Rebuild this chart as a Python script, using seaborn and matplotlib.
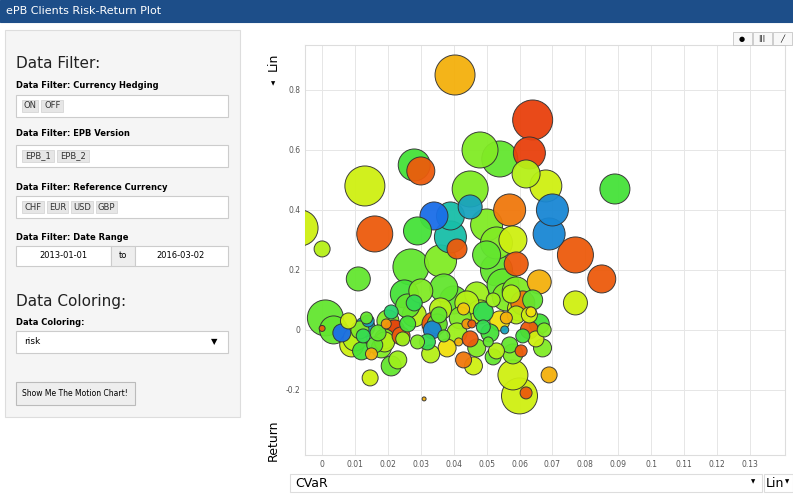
import matplotlib
matplotlib.use("Agg")
import matplotlib.pyplot as plt
import seaborn as sns
import pandas as pd
from matplotlib.colors import LinearSegmentedColormap
from matplotlib.patches import Rectangle

# bubble data: CVaR, Return, radius (px), risk colour value (0 red .. 1 blue)
cvar = [0.0404, 0.064, 0.063, 0.028, 0.013, 0.030, 0.048, 0.054, 0.089, -0.0067,
        0.000, 0.016, 0.029, 0.034, 0.039, 0.045, 0.068, 0.050, 0.057, 0.069,
        0.077, 0.085, 0.077, 0.027, 0.036, 0.041, 0.053, 0.059, 0.066, 0.011,
        0.001, 0.060, 0.058, 0.069, 0.062, 0.0146, 0.021, 0.031, 0.000, 0.058,
        0.006, 0.010, 0.013, 0.016, 0.020, 0.024, 0.028, 0.032, 0.035, 0.038,
        0.042, 0.045, 0.048, 0.051, 0.054, 0.057, 0.060, 0.063, 0.066, 0.008,
        0.018, 0.026, 0.033, 0.040, 0.047, 0.052, 0.056, 0.061, 0.065, 0.012,
        0.022, 0.030, 0.037, 0.044, 0.049, 0.055, 0.059, 0.046, 0.043, 0.050,
        0.036, 0.025, 0.058, 0.053, 0.039, 0.045, 0.070, 0.062, 0.019, 0.034,
        # extra cluster bubbles
        0.009, 0.0115, 0.0125, 0.014, 0.017, 0.019, 0.021, 0.023, 0.0035, 0.015,
        0.026, 0.029, 0.0335, 0.0355, 0.041, 0.043, 0.047, 0.049, 0.053, 0.056,
        0.061, 0.063, 0.067, 0.064, 0.059, 0.052, 0.044, 0.037, 0.028, 0.0245,
        0.0195, 0.0135, 0.0415, 0.0455, 0.0505, 0.0555, 0.0605, 0.0635, 0.0675, 0.0575]
ret = [0.85, 0.70, 0.59, 0.55, 0.48, 0.53, 0.60, 0.57, 0.47, 0.34,
       0.27, 0.32, 0.33, 0.38, 0.38, 0.47, 0.48, 0.35, 0.40, 0.32,
       0.25, 0.17, 0.09, 0.21, 0.23, 0.27, 0.20, 0.22, 0.16, 0.17,
       0.04, -0.22, -0.15, -0.15, -0.21, -0.16, -0.12, -0.23, 0.005, -0.08,
       -0.01, -0.03, 0.01, -0.05, 0.03, -0.02, 0.05, -0.04, 0.02, -0.06,
       0.04, -0.03, 0.06, -0.01, 0.03, -0.05, 0.07, 0.00, 0.02, 0.03,
       -0.06, 0.08, -0.08, 0.10, 0.12, -0.09, 0.11, 0.09, -0.03, -0.07,
       0.00, 0.13, 0.14, 0.09, 0.06, 0.15, 0.13, -0.12, -0.10, 0.25,
       0.07, 0.12, 0.30, 0.29, 0.31, 0.41, 0.40, 0.52, -0.03, 0.02,
       -0.05, 0.00, -0.02, 0.03, -0.01, -0.04, 0.06, -0.10, 0.00, -0.08,
       0.02, -0.04, 0.00, 0.05, -0.01, 0.07, -0.06, 0.01, -0.07, 0.04,
       -0.02, 0.05, -0.06, 0.10, 0.05, 0.10, 0.02, -0.02, 0.09, -0.03,
       0.02, 0.04, -0.04, 0.02, -0.04, 0.00, -0.07, 0.06, 0.00, 0.12]
radius = [20, 20, 16, 16, 20, 14, 18, 18, 15, 18,
          8, 18, 14, 14, 14, 18, 16, 16, 16, 16,
          18, 14, 12, 18, 16, 10, 16, 12, 12, 12,
          18, 18, 15, 8, 6, 8, 10, 2, 3, 10,
          9, 12, 10, 8, 11, 9, 12, 8, 10, 9,
          11, 8, 12, 9, 10, 8, 12, 9, 10, 8,
          10, 12, 9, 14, 12, 8, 14, 12, 8, 9,
          10, 12, 14, 12, 10, 16, 14, 9, 8, 14,
          11, 14, 14, 16, 16, 12, 16, 14, 10, 12,
          12, 9, 7, 6, 8, 10, 7, 9, 14, 6,
          8, 7, 9, 8, 10, 6, 9, 7, 8, 6,
          7, 8, 9, 10, 9, 7, 5, 6, 8, 7,
          5, 6, 4, 4, 5, 4, 6, 5, 7, 9]
risk = [0.2, 0.0, 0.0, 0.65, 0.4, 0.05, 0.55, 0.6, 0.65, 0.4,
        0.45, 0.05, 0.65, 1.0, 0.85, 0.55, 0.4, 0.55, 0.1, 0.95,
        0.05, 0.05, 0.4, 0.6, 0.55, 0.05, 0.6, 0.05, 0.2, 0.6,
        0.6, 0.4, 0.4, 0.2, 0.05, 0.4, 0.6, 0.2, 0.05, 0.55,
        1.0, 0.45, 0.9, 0.6, 0.55, 0.05, 0.45, 0.7, 0.6, 0.3,
        0.55, 0.05, 0.45, 0.65, 0.3, 0.6, 0.4, 0.05, 0.65, 0.4,
        0.55, 0.6, 0.45, 0.6, 0.5, 0.6, 0.55, 0.1, 0.4, 0.65,
        0.0, 0.55, 0.6, 0.45, 0.7, 0.6, 0.55, 0.4, 0.1, 0.6,
        0.45, 0.65, 0.4, 0.55, 0.85, 0.9, 0.95, 0.45, 0.55, 0.05,
        0.4, 0.55, 0.7, 0.9, 0.6, 0.45, 0.75, 0.5, 0.6, 0.2,
        0.65, 0.55, 0.95, 0.6, 0.5, 0.25, 0.55, 0.7, 0.45, 0.2,
        0.65, 0.4, 0.55, 0.6, 0.45, 0.5, 0.15, 0.6, 0.7, 0.5,
        0.15, 0.6, 0.2, 0.05, 0.6, 0.9, 0.05, 0.3, 0.55, 0.45]

xticks = [0, 0.01, 0.02, 0.03, 0.04, 0.05, 0.06, 0.07, 0.08, 0.09, 0.1, 0.11, 0.12, 0.13]
yticks = [-0.2, 0, 0.2, 0.4, 0.6, 0.8]

W, H = 793, 494
fig = plt.figure(figsize=(W / 100, H / 100), dpi=100)
fig.patch.set_facecolor("white")


def fx(px):
    return px / W


def fy(py):
    return 1 - py / H


def box(x0, y0, x1, y1, fc="white", ec="#cccccc", lw=0.8):
    fig.patches.append(Rectangle((fx(x0), fy(y1)), fx(x1) - fx(x0), fy(y0) - fy(y1),
                                 transform=fig.transFigure, fc=fc, ec=ec, lw=lw))


def txt(px, py, s, **kw):
    fig.text(fx(px), fy(py), s, va="center", **kw)


def chips(x0, py, labels):
    x = x0
    for lab in labels:
        w = 6 + 5.2 * len(lab)
        box(x, py - 6, x + w, py + 6, fc="#e6e6e6", ec="#d0d0d0", lw=0.5)
        txt(x + w / 2, py, lab, fontsize=6, ha="center", color="#333333")
        x += w + 3


# header
box(0, 0, W, 22, fc="#1d4e89", ec="#1d4e89")
txt(6, 11, "ePB Clients Risk-Return Plot", fontsize=8, color="white")

# sidebar
box(5, 30, 240, 417, fc="#f5f5f5", ec="#dddddd")
txt(16, 63, "Data Filter:", fontsize=11, color="#222222")
txt(16, 86, "Data Filter: Currency Hedging", fontsize=6, weight="bold")
box(16, 95, 228, 117)
chips(22, 106, ["ON", "OFF"])
txt(16, 133, "Data Filter: EPB Version", fontsize=6, weight="bold")
box(16, 145, 228, 167)
chips(22, 156, ["EPB_1", "EPB_2"])
txt(16, 187, "Data Filter: Reference Currency", fontsize=6, weight="bold")
box(16, 196, 228, 218)
chips(22, 207, ["CHF", "EUR", "USD", "GBP"])
txt(16, 237, "Data Filter: Date Range", fontsize=6, weight="bold")
box(16, 246, 111, 266)
txt(63, 256, "2013-01-01", fontsize=6, ha="center")
box(111, 246, 135, 266, fc="#eeeeee")
txt(123, 256, "to", fontsize=6, ha="center")
box(135, 246, 228, 266)
txt(181, 256, "2016-03-02", fontsize=6, ha="center")
txt(16, 301, "Data Coloring:", fontsize=11, color="#222222")
txt(16, 322, "Data Coloring:", fontsize=6, weight="bold")
box(16, 331, 228, 353)
txt(24, 342, "risk", fontsize=6.5)
txt(214, 342, "\u25bc", fontsize=6, ha="center")
box(16, 382, 135, 405, fc="#eeeeee", ec="#bbbbbb")
txt(75, 393, "Show Me The Motion Chart!", fontsize=5.5, ha="center")

# chart surroundings
box(290, 474, 762, 492, fc="white", ec="#dddddd")
txt(295, 483, "CVaR", fontsize=9)
txt(753, 482, "\u25bc", fontsize=4, ha="center")
box(764, 474, 793, 492, fc="white", ec="#dddddd")
txt(766, 483, "Lin", fontsize=9)
txt(787, 482, "\u25bc", fontsize=4, ha="center")
txt(273, 62, "Lin", fontsize=9, rotation=90, ha="center")
txt(273, 84, "\u25bc", fontsize=4, ha="center")
txt(273, 440, "Return", fontsize=9, rotation=90, ha="center")
for i, g in enumerate(["\u25cf", "|||", "\u2571"]):
    box(733 + 20 * i, 32, 752 + 20 * i, 45, fc="#f8f8f8", ec="#bbbbbb", lw=0.5)
    txt(742 + 20 * i, 38.5, g, fontsize=5, ha="center")

# bubble chart
ax = fig.add_axes([fx(305), fy(455), fx(785) - fx(305), fy(45) - fy(455)])
df = pd.DataFrame({"CVaR": cvar, "Return": ret, "area": [r * r for r in radius], "risk": risk})
df = df.sort_values("area", ascending=False)
cmap = LinearSegmentedColormap.from_list(
    "risk", ["#e8400c", "#f5a00c", "#f0f00c", "#9ef01c", "#3ce03c", "#18c8a0", "#1a6ee8"])
smin, smax = (1.44 * min(radius)) ** 2, (1.44 * max(radius)) ** 2
sns.scatterplot(data=df, x="CVaR", y="Return", size="area", sizes=(smin, smax),
                hue="risk", palette=cmap, hue_norm=(0, 1), edgecolor="#333333",
                linewidth=0.7, alpha=0.95, legend=False, ax=ax, zorder=3)
ax.set_xlim(-0.0052, 0.1407)
ax.set_ylim(-0.417, 0.95)
ax.set_xticks(xticks)
ax.set_xticklabels([f"{t:g}" for t in xticks])
ax.set_yticks(yticks)
ax.set_yticklabels([f"{t:g}" for t in yticks])
ax.tick_params(labelsize=5.5, colors="#555555", length=0)
ax.grid(True, color="#e6e6e6", lw=0.7)
ax.set_axisbelow(True)
ax.set_xlabel("")
ax.set_ylabel("")
for s in ax.spines.values():
    s.set_color("#dddddd")

fig.savefig("out.png", dpi=100)
